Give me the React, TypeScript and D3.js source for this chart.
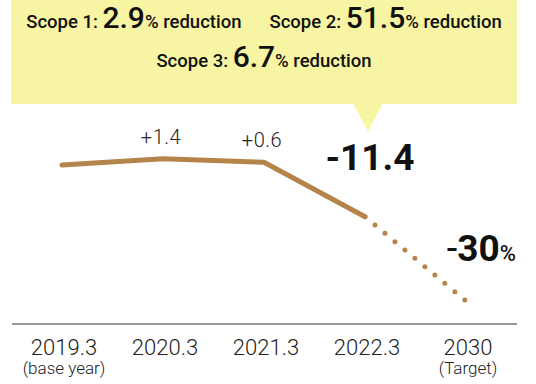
import React from "react";
import * as d3 from "d3";

const periods = ["2019.3", "2020.3", "2021.3", "2022.3", "2030"];
const periodNotes = ["(base year)", "", "", "", "(Target)"];
const emissionIndex = [100, 101.4, 100.6, 88.6, 70];
const changeLabels = ["", "+1.4", "+0.6", "-11.4", "-30"];
const scopeNames = ["Scope 1:", "Scope 2:", "Scope 3:"];
const scopeReductions = ["2.9", "51.5", "6.7"];

const W = 536;
const H = 384;
const LINE = "#b5844b";
const FONT = "Roboto, 'Noto Sans', sans-serif";

export default function App() {
  const x = d3.scalePoint<string>().domain(periods).range([62, 466]);
  const y = d3.scaleLinear().domain([70, 100]).range([301, 165]);
  const pts: [number, number][] = periods.map((p, i) => [x(p)!, y(emissionIndex[i])]);
  const line = d3.line();
  const solid = line(pts.slice(0, 4))!;
  const dotted = line(pts.slice(3))!;

  return (
    <svg
      width={W}
      height={H}
      viewBox={`0 0 ${W} ${H}`}
      style={{ position: "fixed", left: 0, top: 0, fontFamily: FONT }}
    >
      <rect width={W} height={H} fill="#fff" />
      {/* callout */}
      <rect x={11} y={0} width={506} height={104} fill="#f7f4a3" />
      <path d="M353,103 L383,103 L368,131 Z" fill="#f7f4a3" />
      <text x={264} y={28} textAnchor="middle" fill="#111" fontWeight={500}>
        <tspan fontSize={18.5}>{scopeNames[0]} </tspan>
        <tspan fontSize={30}>{scopeReductions[0]}</tspan>
        <tspan fontSize={18.5}>% reduction</tspan>
        <tspan fontSize={18.5} dx={28}>{scopeNames[1]} </tspan>
        <tspan fontSize={30}>{scopeReductions[1]}</tspan>
        <tspan fontSize={18.5}>% reduction</tspan>
      </text>
      <text x={264} y={67} textAnchor="middle" fill="#111" fontWeight={500}>
        <tspan fontSize={18.5}>{scopeNames[2]} </tspan>
        <tspan fontSize={30}>{scopeReductions[2]}</tspan>
        <tspan fontSize={18.5}>% reduction</tspan>
      </text>

      {/* axis baseline */}
      <line x1={12} x2={517} y1={324} y2={324} stroke="#777" strokeWidth={1.5} />

      {/* lines */}
      <path d={solid} fill="none" stroke={LINE} strokeWidth={5} strokeLinecap="round" strokeLinejoin="round" />
      <path
        d={dotted}
        fill="none"
        stroke={LINE}
        strokeWidth={5}
        strokeLinecap="round"
        strokeDasharray="0 13"
        strokeDashoffset={-13}
      />

      {/* change labels */}
      {[1, 2].map((i) => (
        <text
          key={i}
          x={x(periods[i])! - 2}
          y={y(emissionIndex[i]) - 15}
          textAnchor="middle"
          fontSize={20}
          fontWeight={300}
          letterSpacing={0.5}
          fill="#222"
        >
          {changeLabels[i]}
        </text>
      ))}
      <text
        x={x(periods[3])! + 5}
        y={y(emissionIndex[3]) - 47}
        textAnchor="middle"
        fontSize={37}
        fontWeight={700}
        fill="#111"
      >
        {changeLabels[3]}
      </text>
      <text x={x(periods[4])! + 50} y={y(emissionIndex[4]) - 40} textAnchor="end" fill="#111">
        <tspan fontSize={38} fontWeight={400}>{changeLabels[4].slice(0, 1)}</tspan>
        <tspan fontSize={37} fontWeight={700}>{changeLabels[4].slice(1)}</tspan>
        <tspan fontSize={22} fontWeight={500}>%</tspan>
      </text>

      {/* x labels */}
      {periods.map((p, i) => (
        <g key={p}>
          <text x={x(p)! + 2} y={355} textAnchor="middle" fontSize={22} fontWeight={300} fill="#222">
            {p}
          </text>
          {periodNotes[i] && (
            <text x={x(p)! + 2} y={374} textAnchor="middle" fontSize={17} fontWeight={300} fill="#222">
              {periodNotes[i]}
            </text>
          )}
        </g>
      ))}
    </svg>
  );
}
